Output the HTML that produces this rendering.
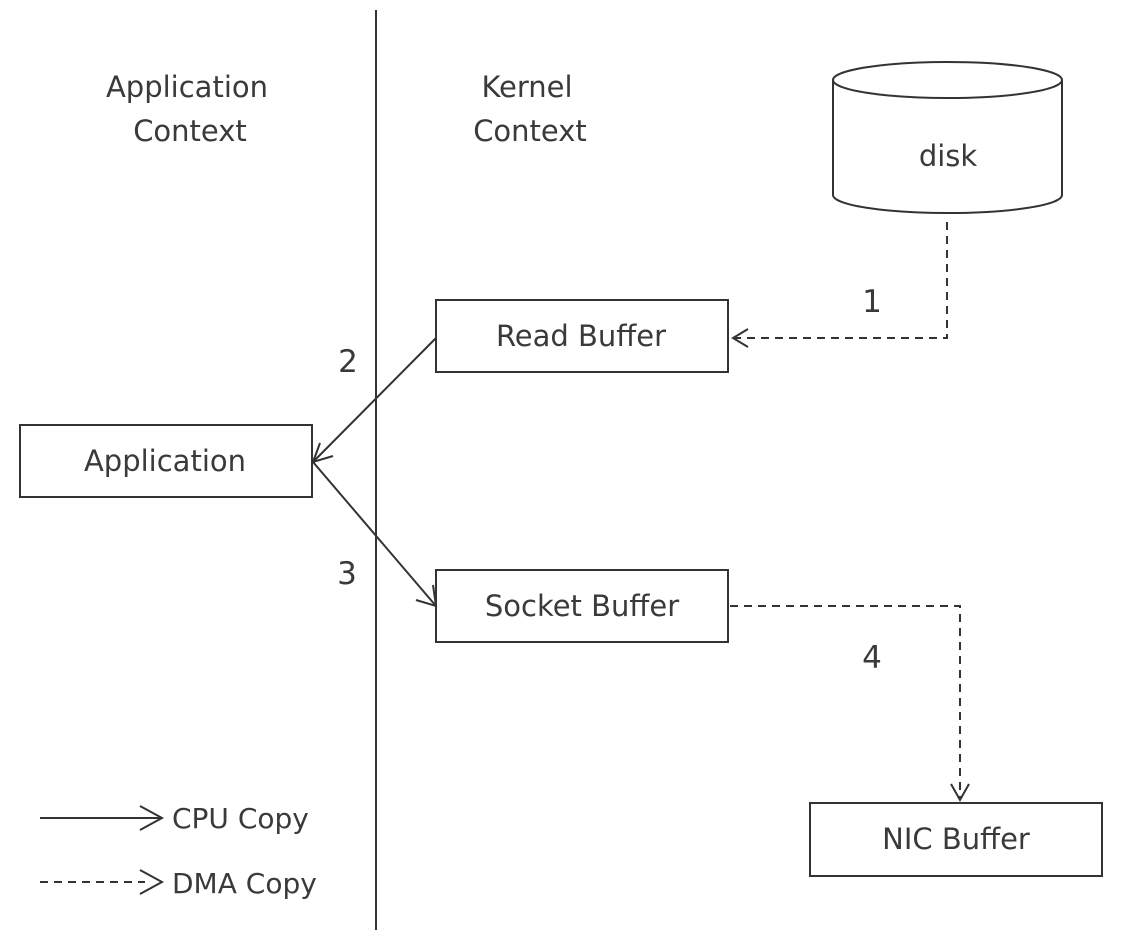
<!DOCTYPE html>
<html><head><style>
body{margin:0;background:#fff}
svg{display:block}
text{font-family:"DejaVu Sans","Liberation Sans",sans-serif;fill:#3a3a3a}
</style></head><body>
<svg width="1126" height="946" viewBox="0 0 1126 946" xmlns="http://www.w3.org/2000/svg">
<g stroke="#333" fill="none" stroke-width="2">
<line x1="376" y1="10" x2="376" y2="930"/>
<rect x="436" y="300" width="292" height="72"/>
<rect x="20" y="425" width="292" height="72"/>
<rect x="436" y="570" width="292" height="72"/>
<rect x="810" y="803" width="292" height="73"/>
<path d="M833 80 L833 195 A114.5 18 0 0 0 1062 195 L1062 80"/>
<ellipse cx="947.5" cy="80" rx="114.5" ry="18"/>
<line x1="436" y1="338" x2="313" y2="462"/>
<path d="M320 443 L313 462 L333 456"/>
<line x1="313" y1="462" x2="436" y2="606"/>
<path d="M433 585 L436 606 L416 600"/>
<path d="M947 222 L947 338 L732 338" stroke-dasharray="8 6"/>
<path d="M748 329 L733 338 L748 347"/>
<path d="M730 606 L960 606 L960 798" stroke-dasharray="8 6"/>
<path d="M951 784 L960 800 L969 784"/>
<line x1="40" y1="818" x2="160" y2="818"/>
<path d="M140 806 L162 818 L140 830"/>
<line x1="40" y1="882" x2="145" y2="882" stroke-dasharray="8 6"/>
<path d="M140 870 L162 882 L140 894"/>
</g>
<g font-size="29" text-anchor="middle">
<text x="187" y="97">Application</text>
<text x="190" y="141">Context</text>
<text x="527" y="97">Kernel</text>
<text x="530" y="141">Context</text>
<text x="948" y="166">disk</text>
<text x="581" y="346">Read Buffer</text>
<text x="165" y="471">Application</text>
<text x="582" y="616">Socket Buffer</text>
<text x="956" y="849">NIC Buffer</text>
</g>
<g font-size="31" text-anchor="middle">
<text x="872" y="312">1</text>
<text x="348" y="372">2</text>
<text x="347" y="584">3</text>
<text x="872" y="668">4</text>
</g>
<g font-size="28">
<text x="172" y="828">CPU  Copy</text>
<text x="172" y="893">DMA Copy</text>
</g>
</svg>
</body></html>
